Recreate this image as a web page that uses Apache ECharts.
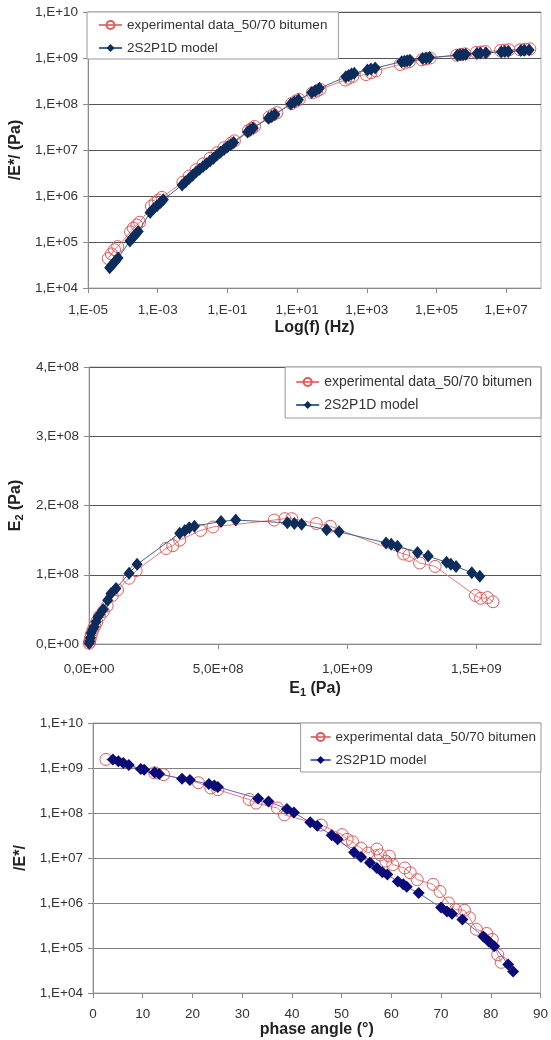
<!DOCTYPE html>
<html><head><meta charset="utf-8">
<script src="https://cdn.jsdelivr.net/npm/echarts@6/dist/echarts.min.js"></script>
<style>html,body{margin:0;padding:0;background:#fff}#c{width:551px;height:1040px}</style>
</head><body><div id="c"></div>
<script>
// ---------- Chart 1: |E*| vs log(f) ----------
const c1ModelLogF = [-4.38,-4.30,-4.22,-4.14, -3.80,-3.72,-3.64,-3.56, -3.22,-3.12,-3.02,-2.92,-2.84,
  -2.30,-2.20,-2.10,-2.00,-1.90,-1.80,-1.70,-1.60,-1.50,-1.40,-1.30,-1.20,-1.10,-1.00,-0.90,-0.82,
  -0.42,-0.34,-0.26, 0.18,0.27,0.36, 0.82,0.92,1.04, 1.42,1.52,1.64, 2.40,2.48,2.56,2.64, 3.02,3.12,3.24,
  4.00,4.08,4.16,4.24, 4.60,4.70,4.80, 5.60,5.68,5.76,5.84, 6.16,6.26,6.42, 6.86,6.96,7.06, 7.42,7.52,7.66];
const c1ModelE = [2.75e4,3.24e4,3.8e4,4.47e4, 1.05e5,1.23e5,1.45e5,1.7e5, 4.37e5,5.25e5,6.17e5,7.24e5,8.32e5,
  1.74e6,2.04e6,2.4e6,2.82e6,3.31e6,3.8e6,4.37e6,5.0e6,5.75e6,6.6e6,7.76e6,8.9e6,1.02e7,1.17e7,1.32e7,1.45e7,
  2.45e7,2.75e7,3.02e7, 4.9e7,5.37e7,5.89e7, 1.0e8,1.1e8,1.23e8, 1.78e8,1.95e8,2.19e8, 3.89e8,4.17e8,4.47e8,4.68e8, 5.5e8,5.75e8,6.03e8,
  8.32e8,8.51e8,8.71e8,8.91e8, 9.77e8,1.0e9,1.02e9, 1.15e9,1.17e9,1.18e9,1.2e9, 1.26e9,1.29e9,1.3e9, 1.35e9,1.38e9,1.39e9, 1.45e9,1.48e9,1.49e9];
const c1ExpLogF = [-4.42,-4.33,-4.24,-4.15, -3.78,-3.70,-3.60,-3.52, -3.18,-3.08,-2.98,-2.88,
  -2.28,-2.10,-1.90,-1.70,-1.50,-1.30,-1.10,-0.90,-0.80, -0.40,-0.30,-0.22, 0.20,0.32,0.42, 0.84,0.96,1.06,
  1.44,1.56,1.66, 2.38,2.48,2.60, 2.98,3.12,3.26, 3.96,4.10,4.22, 4.58,4.70,4.82, 5.58,5.70,5.82,
  6.14,6.28,6.40, 6.84,6.96,7.08, 7.40,7.54,7.68];
const c1ExpE = [4.37e4,5.5e4,6.76e4,7.94e4, 1.66e5,2.0e5,2.34e5,2.69e5, 6.03e5,7.08e5,8.13e5,9.33e5,
  2.0e6,2.69e6,3.72e6,5.0e6,6.6e6,8.7e6,1.12e7,1.41e7,1.58e7, 2.63e7,2.95e7,3.24e7, 5.25e7,5.89e7,6.46e7, 1.02e8,1.15e8,1.26e8,
  1.74e8,1.9e8,2.09e8, 3.31e8,3.63e8,3.98e8, 4.37e8,4.79e8,5.25e8, 7.24e8,7.76e8,8.32e8, 9.12e8,9.55e8,1.0e9, 1.15e9,1.2e9,1.23e9,
  1.32e9,1.35e9,1.38e9, 1.45e9,1.48e9,1.51e9, 1.51e9,1.55e9,1.58e9];
const c1XTicks = [-5,-3,-1,1,3,5,7];

// ---------- Chart 2: Cole-Cole E2 vs E1 ----------
const c2ModelE1 = [0.005e8,0.02e8,0.05e8,0.08e8,0.14e8,0.2e8,0.27e8,0.34e8,0.42e8,0.55e8,0.72e8,0.85e8,1.04e8,
  1.55e8,1.86e8, 3.51e8,3.71e8,3.88e8,4.08e8, 5.11e8,5.68e8, 7.68e8,7.95e8,8.23e8, 9.20e8,9.68e8,
  11.5e8,11.7e8,11.94e8, 12.72e8,13.13e8, 13.84e8,14.01e8,14.21e8, 14.82e8,15.13e8];
const c2ModelE2 = [0.01e8,0.04e8,0.09e8,0.16e8,0.21e8,0.25e8,0.32e8,0.39e8,0.43e8,0.5e8,0.63e8,0.73e8,0.8e8,
  1.02e8,1.15e8, 1.60e8,1.64e8,1.68e8,1.70e8, 1.77e8,1.79e8, 1.75e8,1.74e8,1.73e8, 1.65e8,1.62e8,
  1.46e8,1.44e8,1.41e8, 1.32e8,1.27e8, 1.18e8,1.15e8,1.12e8, 1.03e8,0.98e8];
const c2ExpE1 = [0.005e8,0.02e8,0.05e8,0.09e8,0.15e8,0.22e8,0.3e8,0.4e8,0.55e8,0.7e8,0.9e8,1.1e8,1.55e8,1.82e8,
  2.98e8,3.24e8,3.51e8,4.32e8,4.8e8, 7.17e8,7.58e8,7.85e8,8.8e8,9.34e8, 12.18e8,12.39e8,12.8e8,13.4e8,
  14.96e8,15.16e8,15.43e8,15.64e8];
const c2ExpE2 = [0.01e8,0.03e8,0.08e8,0.14e8,0.2e8,0.26e8,0.32e8,0.4e8,0.47e8,0.55e8,0.7e8,0.78e8,0.95e8,1.06e8,
  1.38e8,1.42e8,1.50e8,1.64e8,1.69e8, 1.79e8,1.81e8,1.81e8,1.74e8,1.70e8, 1.30e8,1.28e8,1.17e8,1.12e8,
  0.70e8,0.66e8,0.67e8,0.61e8];
const c2XTicks = [0, 5e8, 1e9, 1.5e9];

// ---------- Chart 3: |E*| vs phase angle ----------
const c3ModelPhase = [4.0,5.1,6.1,7.2, 9.6,10.3, 12.4,13.3, 17.9,19.5, 23.3,24.4,25.1, 33.2,35.3, 39.0,40.4,
  43.7,45.1, 48.0,49.2, 52.5,53.9,55.7,57.1,58.2,59.2, 61.3,62.4,63.1, 65.5, 70.0,71.2,72.2, 74.3, 78.5,79.6,80.7, 83.5,84.5];
const c3ModelE = [1.55e9,1.41e9,1.29e9,1.17e9, 9.5e8,9.1e8, 7.9e8,7.4e8, 5.75e8,5.4e8, 4.4e8,4.1e8,3.8e8, 2.1e8,1.8e8, 1.23e8,1.02e8,
  6.2e7,5.2e7, 3.2e7,2.6e7, 1.35e7,1.05e7,7.8e6,6.0e6,4.8e6,4.3e6, 3.0e6,2.6e6,2.3e6, 1.66e6, 7.9e5,6.5e5,5.8e5, 4.3e5, 1.8e5,1.4e5,1.1e5, 4.3e4,3.0e4];
const c3ExpPhase = [2.6, 12.4,14.2, 21.2,23.7,25.1, 31.4,32.8, 37.1,38.5, 45.9, 50.1,51.1,52.2,53.9,55.3,57.1,57.8,58.9,59.6,60.3,
  62.7,63.8,65.2, 68.4,69.8, 71.5,72.9,74.7,75.7, 77.1,79.2,80.3, 81.4,82.1];
const c3ExpE = [1.55e9, 7.8e8,7.1e8, 4.7e8,3.6e8,3.3e8, 2.0e8,1.66e8, 1.29e8,9.1e7, 5.4e7, 3.3e7,2.6e7,2.3e7,1.66e7,1.29e7,1.58e7,1.17e7,8.5e6,1.1e7,7.1e6,
  6.0e6,4.7e6,3.3e6, 2.6e6,1.8e6, 1.0e6,7.1e5,6.9e5,4.7e5, 2.6e5,2.1e5,1.55e5, 7.1e4,4.8e4];
const c3XTicks = [0,10,20,30,40,50,60,70,80,90];

const legendNames = {exp: 'experimental data_50/70 bitumen', model: '2S2P1D model'};

// ---------- helpers ----------
const pad2 = n => String(Math.abs(n)).padStart(2, '0');
const fmtExp = e => '1,E' + (e < 0 ? '-' : '+') + pad2(e);
const fmtLog = v => fmtExp(Math.round(Math.log10(v)));
const fmtSci0 = v => { if (v === 0) return '0,E+00'; const e = Math.floor(Math.log10(v) + 1e-9); return Math.round(v / Math.pow(10, e)) + ',E+' + pad2(e); };
const fmtSci1 = v => { if (v === 0) return '0,0E+00'; const e = Math.floor(Math.log10(v) + 1e-9); return (v / Math.pow(10, e)).toFixed(1).replace('.', ',') + 'E+' + pad2(e); };
const zip = (a, b) => a.map((v, i) => [v, b[i]]);

const FONT = 'Liberation Sans, Arial, sans-serif';
const AX = '#8a8a8a';
const labelStyle = {color: '#333', fontSize: 13.5, fontFamily: FONT};
const nameStyle = {color: '#222', fontSize: 16, fontWeight: 'bold', fontFamily: FONT};
const subRich = {
  b: {fontSize: 16, fontWeight: 'bold', fontFamily: FONT, color: '#222'},
  s: {fontSize: 11, fontWeight: 'bold', fontFamily: FONT, color: '#222', padding: [7, 0, 0, 0]}
};

function xAxisBase(idx, extra) {
  return Object.assign({
    gridIndex: idx, type: 'value', nameLocation: 'middle',
    axisLine: {show: true, onZero: false, lineStyle: {color: AX, width: 1}},
    axisTick: {show: true, length: 5, lineStyle: {color: AX}},
    splitLine: {show: false},
    nameTextStyle: nameStyle
  }, extra);
}
function yAxisBase(idx, extra) {
  return Object.assign({
    gridIndex: idx, nameLocation: 'middle',
    axisLine: {show: true, onZero: false, lineStyle: {color: AX, width: 1}},
    axisTick: {show: true, length: 5, lineStyle: {color: AX}},
    nameTextStyle: nameStyle
  }, extra);
}
function expSeries(idx, name, data) {
  return {type: 'line', name, xAxisIndex: idx, yAxisIndex: idx, data, symbol: 'circle', symbolSize: 12,
    showAllSymbol: true, z: 2,
    itemStyle: {color: 'rgba(255,255,255,0)', borderColor: '#e05a5a', borderWidth: 1},
    lineStyle: {color: '#e87878', width: 1}};
}
function modelSeries(idx, name, data, color, lineColor, size) {
  return {type: 'line', name, xAxisIndex: idx, yAxisIndex: idx, data, symbol: 'diamond', symbolSize: size,
    showAllSymbol: true, z: 3,
    itemStyle: {color: color, borderWidth: 0},
    lineStyle: {color: lineColor, width: 1}};
}
function legend(names, pos, padding, fontSize, itemWidth) {
  return Object.assign({
    orient: 'vertical', data: names, backgroundColor: '#fff', borderColor: '#999', borderWidth: 1,
    borderRadius: 0, padding, itemWidth: itemWidth, itemHeight: 10, itemGap: 7, selectedMode: false,
    formatter: n => legendNames[n.replace(/\d$/, '')],
    textStyle: {color: '#333', fontSize, fontFamily: FONT, lineHeight: 16}
  }, pos);
}

const option = {
  animation: false,
  backgroundColor: '#fff',
  grid: [
    {left: 87, top: 12, width: 454, height: 276, show: true, borderColor: '#b0b0b0', borderWidth: 1, containLabel: false},
    {left: 88, top: 367, width: 453, height: 277, show: true, borderColor: '#b0b0b0', borderWidth: 1, containLabel: false},
    {left: 93, top: 723, width: 448, height: 270, show: true, borderColor: '#b0b0b0', borderWidth: 1, containLabel: false}
  ],
  xAxis: [
    xAxisBase(0, {min: -5, max: 8, name: 'Log(f) (Hz)', nameGap: 32,
      axisLabel: Object.assign({customValues: c1XTicks, formatter: fmtExp, margin: 15}, labelStyle),
      axisTick: {show: true, length: 5, customValues: c1XTicks, lineStyle: {color: AX}}}),
    xAxisBase(1, {min: 0, max: 1.75e9, name: '{b|E}{s|1}{b| (Pa)}', nameGap: 36,
      nameTextStyle: {rich: subRich},
      axisLabel: Object.assign({customValues: c2XTicks, formatter: fmtSci1, margin: 18}, labelStyle),
      axisTick: {show: true, length: 5, customValues: c2XTicks, lineStyle: {color: AX}}}),
    xAxisBase(2, {min: 0, max: 90, interval: 10, name: 'phase angle (°)', nameGap: 27,
      axisLabel: Object.assign({margin: 14}, labelStyle)})
  ],
  yAxis: [
    yAxisBase(0, {type: 'log', logBase: 10, min: 1e4, max: 1e10, name: '/E*/ (Pa)', nameGap: 52,
      axisLabel: Object.assign({formatter: fmtLog, margin: 10}, labelStyle),
      splitLine: {show: true, lineStyle: {color: '#555', width: 1}}}),
    yAxisBase(1, {type: 'value', min: 0, max: 4e8, interval: 1e8, name: '{b|E}{s|2}{b| (Pa)}', nameGap: 53,
      nameTextStyle: {rich: subRich},
      axisLabel: Object.assign({formatter: fmtSci0, margin: 10}, labelStyle),
      splitLine: {show: true, lineStyle: {color: '#555', width: 1}}}),
    yAxisBase(2, {type: 'log', logBase: 10, min: 1e4, max: 1e10, name: '/E*/', nameGap: 53,
      axisLabel: Object.assign({formatter: fmtLog, margin: 10}, labelStyle),
      splitLine: {show: true, lineStyle: {color: '#808080', width: 1}}})
  ],
  legend: [
    legend(['exp1', 'model1'], {left: 87, top: 12}, [5, 11, 3, 11], 13.5, 23),
    legend(['exp2', 'model2'], {right: 10, top: 367}, [7, 9, 5, 10], 14, 23),
    legend(['exp3', 'model3'], {right: 10, top: 723}, [6, 5, 4, 9], 13.5, 20)
  ],
  series: [
    expSeries(0, 'exp1', zip(c1ExpLogF, c1ExpE)),
    modelSeries(0, 'model1', zip(c1ModelLogF, c1ModelE), '#0c2d5c', '#3d6690', [11, 13]),
    expSeries(1, 'exp2', zip(c2ExpE1, c2ExpE2)),
    modelSeries(1, 'model2', zip(c2ModelE1, c2ModelE2), '#0c2d5c', '#3d6690', [11, 13]),
    expSeries(2, 'exp3', zip(c3ExpPhase, c3ExpE)),
    modelSeries(2, 'model3', zip(c3ModelPhase, c3ModelE), '#0b0b78', '#5566cc', [12, 12])
  ]
};
const chart = echarts.init(document.getElementById('c'), null, {renderer: 'canvas'});
chart.setOption(option);
</script>
</body></html>
